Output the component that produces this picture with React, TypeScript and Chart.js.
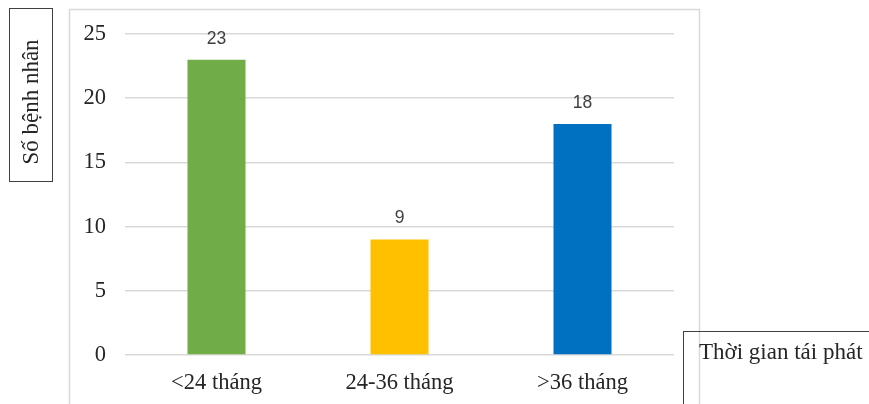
import React, { useEffect, useRef } from "react";
import { Chart, registerables } from "chart.js";

Chart.register(...registerables);

const categories = ["<24 tháng", "24-36 tháng", ">36 tháng"];
const patientCounts = [23, 9, 18];
const barColors = ["#70AD47", "#FFC000", "#0070C0"];
const yTicks = [0, 5, 10, 15, 20, 25];
const yTitle = "Số bệnh nhân";
const xTitle = "Thời gian tái phát";

const SERIF = "'Liberation Serif', 'Times New Roman', serif";
const SANS = "'Liberation Sans', Arial, sans-serif";

const decorPlugin = {
  id: "decor",
  beforeDraw(chart: any) {
    const ctx = chart.ctx;
    ctx.save();
    ctx.strokeStyle = "#d9d9d9";
    ctx.lineWidth = 1.5;
    ctx.strokeRect(69.5, 9.5, 630, 420);
    ctx.restore();
  },
  afterDraw(chart: any) {
    const ctx = chart.ctx;
    ctx.save();
    const meta = chart.getDatasetMeta(0);
    ctx.fillStyle = "#404040";
    ctx.font = `17.5px ${SANS}`;
    ctx.textAlign = "center";
    ctx.textBaseline = "middle";
    meta.data.forEach((bar: any, i: number) => {
      ctx.fillText(String(patientCounts[i]), bar.x, bar.y - 21);
    });
    ctx.strokeStyle = "#404040";
    ctx.lineWidth = 1;
    ctx.strokeRect(9.5, 8.5, 43, 173);
    ctx.fillStyle = "#262626";
    ctx.font = `23px ${SERIF}`;
    ctx.translate(32, 102);
    ctx.rotate(-Math.PI / 2);
    ctx.textAlign = "center";
    ctx.textBaseline = "middle";
    ctx.fillText(yTitle, 0, 0);
    ctx.setTransform(1, 0, 0, 1, 0, 0);
    ctx.strokeStyle = "#404040";
    ctx.strokeRect(683.5, 331.5, 200, 100);
    ctx.fillStyle = "#262626";
    ctx.font = `23px ${SERIF}`;
    ctx.textAlign = "left";
    ctx.textBaseline = "middle";
    ctx.fillText(xTitle, 699, 353);
    ctx.restore();
  },
};

export default function App() {
  const ref = useRef<HTMLCanvasElement | null>(null);
  useEffect(() => {
    if (!ref.current) return;
    const chart = new Chart(ref.current, {
      type: "bar",
      data: {
        labels: categories,
        datasets: [
          {
            data: patientCounts,
            backgroundColor: barColors,
            barPercentage: 0.317,
            categoryPercentage: 1,
          },
        ],
      },
      options: {
        responsive: false,
        animation: false,
        layout: { padding: { left: 0, top: 34, right: 195, bottom: 0 } },
        plugins: { legend: { display: false }, tooltip: { enabled: false }, title: { display: false } },
        scales: {
          x: {
            grid: { display: false, drawTicks: false },
            border: { display: false },
            ticks: { color: "#262626", font: { family: SERIF, size: 22.5 }, padding: 14.5 },
            afterFit: (s: any) => {
              s.height = 49;
            },
          },
          y: {
            min: 0,
            max: 25,
            afterBuildTicks: (s: any) => {
              s.ticks = yTicks.map((v) => ({ value: v }));
            },
            grid: { color: "#d9d9d9", lineWidth: 1.5, drawTicks: false },
            border: { display: false },
            ticks: { color: "#262626", font: { family: SERIF, size: 22.5 }, padding: 19 },
            afterFit: (s: any) => {
              s.width = 125;
            },
          },
        },
      },
      plugins: [decorPlugin],
    });
    return () => chart.destroy();
  }, []);
  return (
    <div style={{ position: "absolute", left: 0, top: 0, width: 869, height: 404, background: "#fff" }}>
      <canvas ref={ref} width={869} height={404} style={{ display: "block" }} />
    </div>
  );
}
